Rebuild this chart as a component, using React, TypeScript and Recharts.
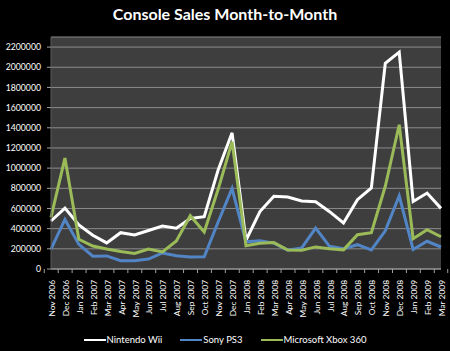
import React from "react";
import { LineChart, Line, XAxis, YAxis, CartesianGrid } from "recharts";

const months = [
  "Nov 2006", "Dec 2006", "Jan 2007", "Feb 2007", "Mar 2007", "Apr 2007", "May 2007", "Jun 2007",
  "Jul 2007", "Aug 2007", "Sep 2007", "Oct 2007", "Nov 2007", "Dec 2007", "Jan 2008", "Feb 2008",
  "Mar 2008", "Apr 2008", "May 2008", "Jun 2008", "Jul 2008", "Aug 2008", "Sep 2008", "Oct 2008",
  "Nov 2008", "Dec 2008", "Jan 2009", "Feb 2009", "Mar 2009",
];

const wii = [
  476000, 604000, 436000, 335000, 259000, 360000, 338000, 382000, 425000, 404000, 501000, 519000,
  981000, 1350000, 285000, 570000, 721000, 714000, 675000, 666000, 568000, 456000, 687000, 804000,
  2040000, 2150000, 670000, 753000, 601000,
];

const ps3 = [
  197000, 491000, 244000, 127000, 130000, 82000, 82000, 98000, 159000, 131000, 119000, 121000,
  466000, 798000, 269000, 281000, 257000, 187000, 209000, 405000, 225000, 200000, 241000, 190000,
  378000, 726000, 194000, 275000, 218000,
];

const xbox = [
  511000, 1100000, 294000, 228000, 199000, 174000, 155000, 198000, 170000, 277000, 528000, 366000,
  790000, 1260000, 230000, 255000, 262000, 188000, 186000, 219000, 200000, 190000, 340000, 360000,
  820000, 1430000, 300000, 390000, 320000,
];

const yTicks = [0, 200000, 400000, 600000, 800000, 1000000, 1200000, 1400000, 1600000, 1800000, 2000000, 2200000];

const seriesNames = ["Nintendo Wii", "Sony PS3", "Microsoft Xbox 360"];
const seriesColors = ["#ffffff", "#5285c6", "#9bbb59"];

const data = months.map((m, i) => ({ month: m, wii: wii[i], ps3: ps3[i], xbox: xbox[i] }));

const W = 450;
const H = 351;
const MARGIN = { top: 37, right: 9, bottom: 0, left: 0 };
const Y_W = 51;
const X_H = 82;
const PLOT_BOTTOM = H - MARGIN.bottom - X_H;
const BAND = (W - MARGIN.right - MARGIN.left - Y_W) / months.length;
const FONT = "Lato, 'Open Sans', sans-serif";

const XTick = (props: any) => {
  const { x, payload } = props;
  const y = PLOT_BOTTOM;
  const isLast = payload.value === months[months.length - 1];
  return (
    <g>
      <line x1={x - BAND / 2} y1={y} x2={x - BAND / 2} y2={y + 4} stroke="#a0a0a0" strokeWidth={1} />
      {isLast && <line x1={x + BAND / 2} y1={y} x2={x + BAND / 2} y2={y + 4} stroke="#a0a0a0" strokeWidth={1} />}
      <text
        transform={`translate(${x + 1},${y + 11}) rotate(-90)`}
        textAnchor="end"
        dy="0.35em"
        fill="#ffffff"
        fontSize={8.4}
        fontFamily={FONT}
      >
        {payload.value}
      </text>
    </g>
  );
};

export default function App() {
  return (
    <div style={{ position: "absolute", left: 0, top: 0, width: W, height: H, background: "#000", fontFamily: FONT }}>
      <div
        style={{
          position: "absolute",
          top: 4,
          left: 0,
          width: W,
          textAlign: "center",
          color: "#fff",
          fontWeight: 700,
          fontSize: 16,
          lineHeight: "20px",
        }}
      >
        Console Sales Month-to-Month
      </div>
      <LineChart width={W} height={H} data={data} margin={MARGIN}>
        <CartesianGrid vertical={false} stroke="#8c8c8c" fill="#3e3e3e" />
        <XAxis
          dataKey="month"
          height={X_H}
          interval={0}
          tickSize={0}
          tickLine={false}
          tickMargin={0}
          axisLine={{ stroke: "#a0a0a0" }}
          tick={<XTick />}
        />
        <YAxis
          width={Y_W}
          domain={[0, 2300000]}
          ticks={yTicks}
          interval={0}
          tickSize={4}
          tickMargin={6}
          tickLine={{ stroke: "#a0a0a0" }}
          axisLine={{ stroke: "#5a5a5a" }}
          tick={{ fill: "#ffffff", fontSize: 8.7, fontFamily: FONT }}
        />
        <Line dataKey="wii" name={seriesNames[0]} stroke={seriesColors[0]} strokeWidth={3} dot={false} type="linear" isAnimationActive={false} />
        <Line dataKey="ps3" name={seriesNames[1]} stroke={seriesColors[1]} strokeWidth={3} dot={false} type="linear" isAnimationActive={false} />
        <Line dataKey="xbox" name={seriesNames[2]} stroke={seriesColors[2]} strokeWidth={3} dot={false} type="linear" isAnimationActive={false} />
      </LineChart>
      <div
        style={{
          position: "absolute",
          top: 333,
          left: 0,
          width: W,
          display: "flex",
          justifyContent: "center",
          gap: 18,
          color: "#fff",
          fontSize: 9.5,
          lineHeight: "14px",
        }}
      >
        {seriesNames.map((n, i) => (
          <div key={n} style={{ display: "flex", alignItems: "center" }}>
            <span style={{ display: "inline-block", width: 22, height: 2, background: seriesColors[i], marginRight: 1 }} />
            <span>{n}</span>
          </div>
        ))}
      </div>
    </div>
  );
}
